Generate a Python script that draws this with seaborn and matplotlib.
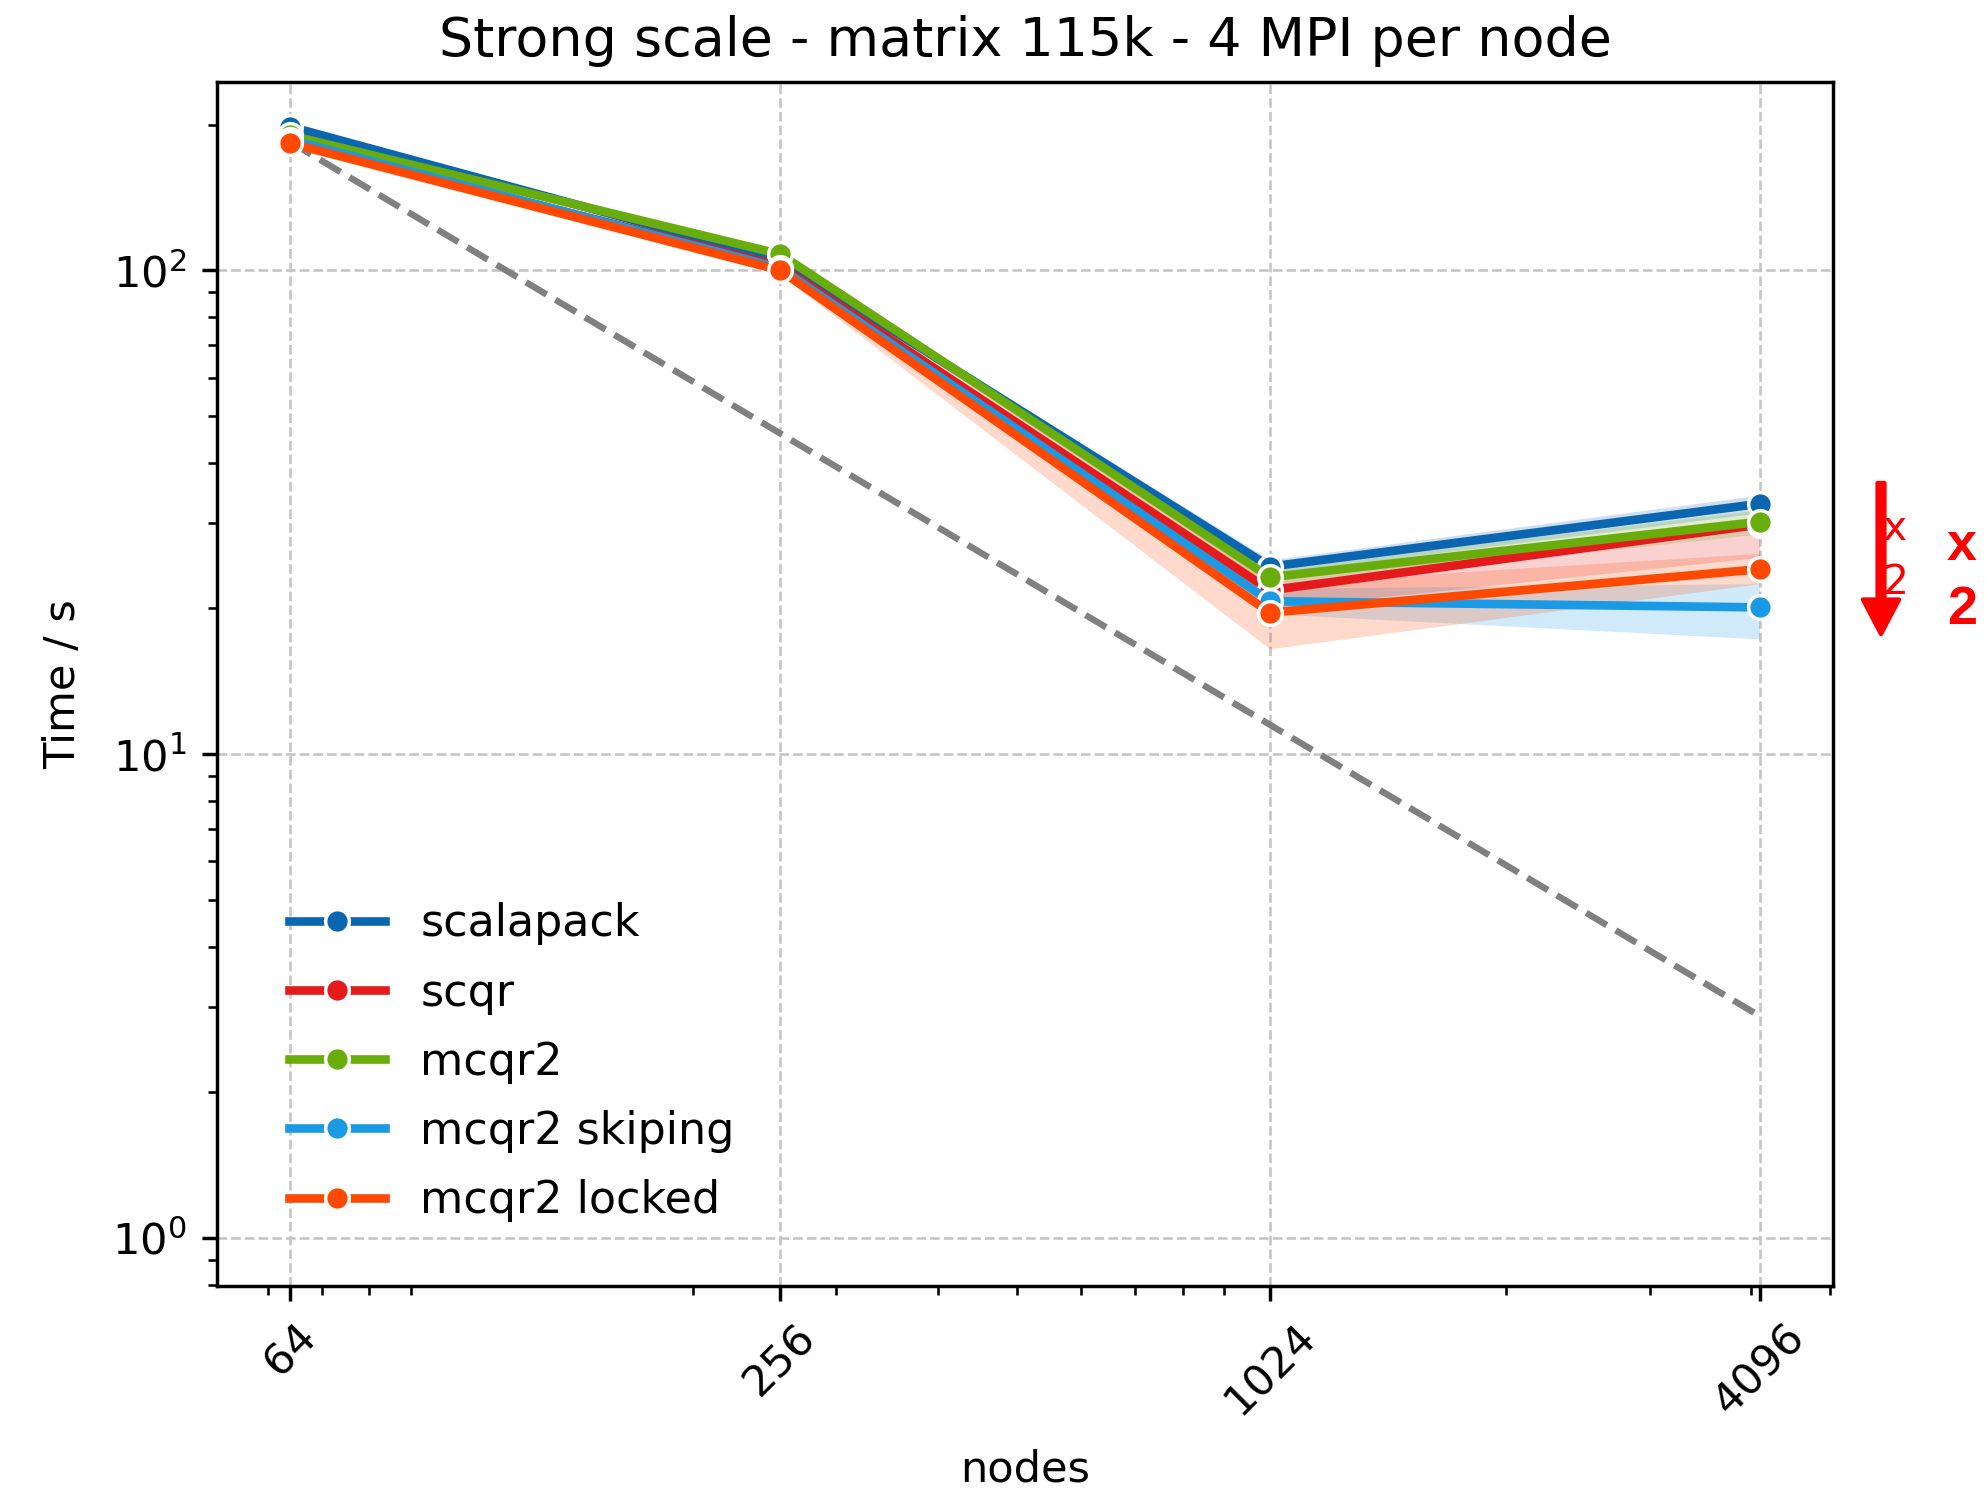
import numpy as np
import pandas as pd
import matplotlib
matplotlib.use("Agg")
import matplotlib.pyplot as plt
from matplotlib.lines import Line2D
import seaborn as sns

# Node counts and measured wall times (seconds)
nodes = [64, 256, 1024, 4096]
methods = ["scalapack", "scqr", "mcqr2", "mcqr2 skiping", "mcqr2 locked"]
colors = ["#0a66b0", "#e41a1c", "#68ad0c", "#1a9ae4", "#ff4800"]

scalapack_time = [198, 105, 24.4, 32.9]
scqr_time = [184, 102, 21.8, 29.8]
mcqr2_time = [190, 108, 23.2, 30.2]
skiping_time = [186, 101, 20.7, 20.1]
locked_time = [183, 100, 19.6, 24.1]

# Spread between runs (lower / upper bounds)
scalapack_lo = [194, 103, 23.6, 31.5]
scalapack_hi = [202, 107, 25.2, 34.3]
scqr_lo = [180, 100, 20.0, 25.5]
scqr_hi = [188, 104, 23.5, 31.0]
mcqr2_lo = [186, 106, 22.3, 28.5]
mcqr2_hi = [194, 110, 24.2, 32.0]
skiping_lo = [182, 99, 19.5, 17.3]
skiping_hi = [190, 103, 22.0, 22.5]
locked_lo = [179, 98, 16.5, 22.5]
locked_hi = [187, 102, 22.5, 26.0]

# Perfect strong scaling reference from the 64-node time
ideal_base = 184

times = [scalapack_time, scqr_time, mcqr2_time, skiping_time, locked_time]
lows = [scalapack_lo, scqr_lo, mcqr2_lo, skiping_lo, locked_lo]
highs = [scalapack_hi, scqr_hi, mcqr2_hi, skiping_hi, locked_hi]

rows = []
for m, t in zip(methods, times):
    for n, v in zip(nodes, t):
        rows.append({"nodes": n, "time": v, "method": m})
df = pd.DataFrame(rows)
ideal = [ideal_base * nodes[0] / n for n in nodes]

W, H = 1986, 1489
dpi = 310.3125
fig = plt.figure(figsize=(W / dpi, H / dpi), dpi=dpi)
ax = fig.add_axes([217 / W, 1 - 1285.5 / H, (1833 - 217) / W, (1285.5 - 82) / H])

sns.lineplot(x=nodes, y=ideal, color="gray", linestyle="--", linewidth=1.5,
             ax=ax, legend=False, zorder=2)

palette = dict(zip(methods, colors))
for m, c, lo, hi in zip(methods, colors, lows, highs):
    ax.fill_between(nodes, lo, hi, color=c, alpha=0.2, linewidth=0, zorder=1)

sns.lineplot(data=df, x="nodes", y="time", hue="method", hue_order=methods,
             palette=palette, marker="o", markersize=5.5, markeredgecolor="white",
             markeredgewidth=0.8, linewidth=2.0, errorbar=None, ax=ax,
             legend=False, zorder=3)

ax.set_xscale("log")
ax.set_yscale("log")
ax.set_xticks(nodes)
ax.set_xticklabels([str(n) for n in nodes], rotation=45)
ax.set_ylim(0.797, 245)
ax.grid(True, which="major", linestyle="--", color="#c4c4c4", linewidth=0.6)
ax.set_axisbelow(True)

ax.set_title("Strong scale - matrix 115k - 4 MPI per node", fontsize=12.5)
ax.set_xlabel("nodes", fontsize=10, labelpad=5.8)
ax.set_ylabel("Time / s", fontsize=10, labelpad=6.5)

handles = [Line2D([], [], color=c, linewidth=2.0, marker="o", markersize=5.5,
                  markeredgecolor="white", markeredgewidth=0.8) for c in colors]
ax.legend(handles, methods, loc="lower left", frameon=False, fontsize=10.3,
          handlelength=2.15, labelspacing=0.59, bbox_to_anchor=(0.02, 0.0195))

# Speed-up marker next to the right edge of the axes
ax.annotate("", xy=(1881 / W, 1 - 634 / H), xytext=(1881 / W, 1 - 483 / H),
            xycoords="figure fraction", textcoords="figure fraction",
            arrowprops=dict(facecolor="red", edgecolor="red", width=1.6,
                            headwidth=8.4, headlength=8.0, shrink=0.0),
            annotation_clip=False)
fig.text(1883 / W, 1 - 556 / H, "x\n2", color="red", fontsize=9.5,
         ha="left", va="center", linespacing=1.46)
fig.text(1947 / W, 1 - 578 / H, "x\n2", color="red", fontsize=12.5,
         fontweight="bold", family="Liberation Sans", ha="left", va="center",
         linespacing=1.36)

fig.savefig("out.png", dpi=dpi)
